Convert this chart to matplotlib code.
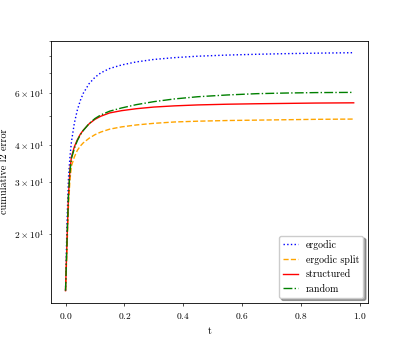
import numpy as np
import matplotlib
matplotlib.use("Agg")
import matplotlib.pyplot as plt

plt.rcParams['font.family'] = 'serif'
plt.rcParams['font.serif'] = ['cmr10', 'DejaVu Serif']
plt.rcParams['mathtext.fontset'] = 'cm'
plt.rcParams['axes.formatter.use_mathtext'] = True
plt.rcParams['font.size'] = 6.8

t = [0, 0.005, 0.01, 0.015, 0.02, 0.03, 0.04, 0.05, 0.06, 0.08, 0.1, 0.12, 0.15, 0.19,
     0.24, 0.3, 0.37, 0.45, 0.55, 0.65, 0.75, 0.85, 0.98]
ergodic = [12.9, 22, 31, 36.5, 41, 47.5, 52.5, 56.5, 59.8, 64.5, 67.8, 70.2, 72.6, 74.6,
           76.4, 77.9, 79.0, 79.9, 80.6, 81.1, 81.5, 81.8, 82.1]
ergodic_split = [12.9, 18, 25, 30.5, 34, 36.5, 38.4, 39.7, 40.7, 42.2, 43.4, 44.3, 45.3, 46.1,
                 46.8, 47.4, 47.9, 48.2, 48.45, 48.6, 48.75, 48.9, 49.0]
structured = [12.9, 19, 27, 33, 36.5, 39.5, 41.7, 43.5, 44.9, 47.2, 48.9, 50.1, 51.4, 52.3,
              53.1, 53.8, 54.3, 54.7, 55.0, 55.2, 55.35, 55.5, 55.6]
random_ = [12.9, 19, 27, 32.5, 36, 39, 41.4, 43.3, 44.8, 47.3, 49.2, 50.6, 52.1, 53.4,
           54.8, 56.1, 57.3, 58.3, 59.1, 59.7, 60.0, 60.2, 60.3]

fig, ax = plt.subplots(figsize=(4.09, 3.4), dpi=100)
lw = 1.0
ax.plot(t, ergodic, ':', color='blue', lw=lw, label='ergodic')
ax.plot(t, ergodic_split, '--', color='orange', lw=lw, label='ergodic split')
ax.plot(t, structured, '-', color='red', lw=lw, label='structured')
ax.plot(t, random_, '-.', color='green', lw=lw, label='random')
ax.set_yscale('log')
ax.set_xlabel('t', fontsize=7.3)
ax.set_ylabel('cumulative l2 error', fontsize=7.3)
for s in ax.spines.values():
    s.set_linewidth(0.6)
ax.tick_params(which='major', length=2.4, width=0.5)
ax.tick_params(which='minor', length=1.4, width=0.4)
ax.legend(loc='lower right', shadow=True, fancybox=True, fontsize=7.2,
          handlelength=1.5, borderaxespad=0.5)
fig.savefig('out.png', dpi=100)
